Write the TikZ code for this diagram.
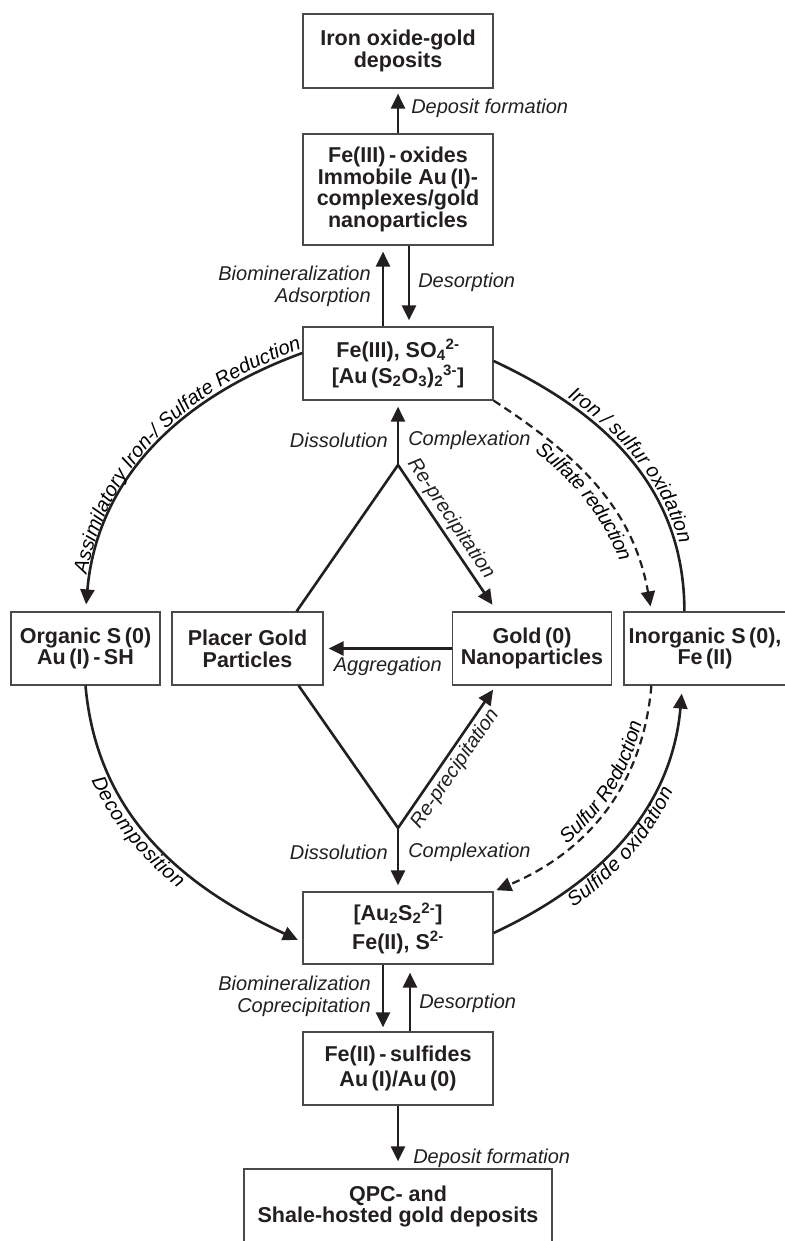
\documentclass[tikz,border=0pt]{standalone}
\usepackage{fontspec}
\setmainfont{Liberation Sans}
\usetikzlibrary{positioning, arrows.meta, decorations.text}
\definecolor{inkblack}{HTML}{231F20}
\definecolor{boxgray}{HTML}{4A4A4A}

\newcommand\boxfont{\fontsize{21.5}{21.7}\selectfont\bfseries}
\newcommand\lblfont{\fontsize{20}{21.7}\selectfont\itshape}

\tikzset{
  stage/.style={draw=boxgray, line width=1.2pt, align=center, font=\boxfont,
                text=inkblack, inner sep=0pt},
  flow/.style={draw=inkblack, line width=2.6pt, -{Triangle[length=15pt,width=14pt]}},
  plainflow/.style={draw=inkblack, line width=2.6pt},
  dashflow/.style={flow, line width=2.2pt, dash pattern=on 8pt off 5pt},
  lbl/.style={font=\lblfont, text=inkblack, inner sep=0pt},
  arclbl/.style 2 args={decorate, decoration={text along path, raise=#1,
        text align={align=left, left indent=#2}}},
}

\begin{document}
\begin{tikzpicture}[x=1pt, y=1pt]
  \useasboundingbox (0,0) rectangle (784,1241);

  % boxes
  \node[stage, minimum width=190pt, minimum height=74pt] (iod) at (398,1190)
    {Iron oxide-gold\\deposits};
  \node[stage, minimum width=190pt, minimum height=111pt] (feox) at (398,1051.5)
    {Fe(III)\,-\,oxides\\Immobile Au\,(I)-\\complexes/gold\\nanoparticles};
  \node[stage, minimum width=190pt, minimum height=73pt] (fe3) at (398,877.5)
    {Fe(III), SO\textsubscript{4}\textsuperscript{2-}\\[3pt]
     [Au\,(S\textsubscript{2}O\textsubscript{3})\textsubscript{2}\textsuperscript{3-}]};
  \node[stage, minimum width=149pt, minimum height=73pt] (orgs) at (85.5,592.5)
    {Organic S\,(0)\\Au\,(I)\,-\,SH};
  \node[stage, minimum width=151pt, minimum height=73pt] (placer) at (247.5,592.5)
    {Placer Gold\\Particles};
  \node[stage, minimum width=159pt, minimum height=73pt] (gold0) at (532,592.5)
    {Gold\,(0)\\Nanoparticles};
  \node[stage, minimum width=162pt, minimum height=73pt] (inorg) at (705,592.5)
    {Inorganic S\,(0),\\Fe\,(II)};
  \node[stage, minimum width=190pt, minimum height=72pt] (au2s2) at (398,313)
    {[Au\textsubscript{2}S\textsubscript{2}\textsuperscript{2-}]\\[5pt]Fe(II), S\textsuperscript{2-}};
  \node[stage, minimum width=190pt, minimum height=73pt] (fes) at (398,172.5)
    {Fe(II)\,-\,sulfides\\[3pt]Au\,(I)/Au\,(0)};
  \node[stage, minimum width=308pt, minimum height=75pt] (qpc) at (398,34.5)
    {QPC- and\\Shale-hosted gold deposits};

  \coordinate (jtop) at (398,776);
  \coordinate (jbot) at (398,413);

  % upper column
  \draw[flow, shorten >=5pt] (feox.north) -- (iod.south)
    node[lbl, pos=0.55, right=12pt] {Deposit formation};
  \draw[flow, shorten >=6pt] ([xshift=-15pt]fe3.north) -- ([xshift=-15pt]feox.south)
    node[lbl, pos=0.5, left=11pt, align=right] {Biomineralization\\Adsorption};
  \draw[flow, shorten >=6pt] ([xshift=11pt]feox.south) -- ([xshift=11pt]fe3.north)
    node[lbl, pos=0.46, right=8pt] {Desorption};

  % gold diamond
  \draw[flow, shorten >=6pt] (jtop) -- (fe3.south)
    node[lbl, pos=0.39, left=9pt] {Dissolution}
    node[lbl, pos=0.39, right=9pt] {Complexation};
  \draw[plainflow] (jtop) -- ([xshift=-27pt]placer.north east);
  \draw[flow, shorten >=8pt] (jtop) -- ([xshift=45pt]gold0.north west)
    node[lbl, sloped, pos=0.42, above=3pt] {Re-precipitation};
  \draw[flow, shorten >=5pt] (gold0.west) -- (placer.east)
    node[lbl, midway, below=7pt] {Aggregation};
  \draw[plainflow] (jbot) -- ([xshift=-25pt]placer.south east);
  \draw[flow, shorten >=5pt] (jbot) -- ([xshift=44pt]gold0.south west)
    node[lbl, sloped, pos=0.47, below=3pt] {Re-precipitation};
  \draw[flow, shorten >=6pt] (jbot) -- (au2s2.north)
    node[lbl, pos=0.38, left=9pt] {Dissolution}
    node[lbl, pos=0.38, right=9pt] {Complexation};

  % left cycle
  \draw[flow, shorten >=7pt] ([yshift=10.5pt]fe3.west) to[out=200, in=85] (orgs.north);
  \path[arclbl={4pt}{36pt}, decoration={text={|\lblfont|Assimilatory Iron-/ Sulfate Reduction}}]
    (orgs.north) to[out=85, in=200] ([yshift=10.5pt]fe3.west);
  \draw[flow, shorten >=5pt] (orgs.south) to[out=-85, in=155] ([yshift=-14pt]au2s2.west);
  \path[arclbl={-17.5pt}{90pt}, decoration={text={|\lblfont|Decomposition}}]
    (orgs.south) to[out=-85, in=155] ([yshift=-14pt]au2s2.west);

  % right cycle
  \draw[plainflow] ([yshift=2.5pt]fe3.east) to[out=-25, in=90] ([xshift=61pt]inorg.north west);
  \path[arclbl={4pt}{82pt}, decoration={text={|\lblfont|Iron / sulfur oxidation}}]
    ([yshift=2.5pt]fe3.east) to[out=-25, in=90] ([xshift=61pt]inorg.north west);
  \draw[dashflow, shorten >=5pt] (fe3.south east) to[out=-33, in=100] ([xshift=28pt]inorg.north west);
  \path[arclbl={-17.5pt}{64pt}, decoration={text={|\lblfont|Sulfate reduction}}]
    (fe3.south east) to[out=-33, in=100] ([xshift=28pt]inorg.north west);
  \draw[dashflow, shorten >=3pt] ([xshift=28pt]inorg.south west) to[out=-95, in=23] (au2s2.north east);
  \path[arclbl={4pt}{88pt}, decoration={text={|\lblfont|Sulfur Reduction}}]
    (au2s2.north east) to[out=23, in=-95] ([xshift=28pt]inorg.south west);
  \draw[flow, shorten >=8pt] ([yshift=-5pt]au2s2.east) to[out=25, in=-95] ([xshift=59pt]inorg.south west);
  \path[arclbl={-17.5pt}{80pt}, decoration={text={|\lblfont|Sulfide oxidation}}]
    ([yshift=-5pt]au2s2.east) to[out=25, in=-95] ([xshift=59pt]inorg.south west);

  % lower column
  \draw[flow, shorten >=4pt] ([xshift=-15pt]au2s2.south) -- ([xshift=-15pt]fes.north)
    node[lbl, pos=0.48, left=11pt, align=right] {Biomineralization\\Coprecipitation};
  \draw[flow, shorten >=8pt] ([xshift=12pt]fes.north) -- ([xshift=12pt]au2s2.south)
    node[lbl, pos=0.42, right=8pt] {Desorption};
  \draw[flow, shorten >=7pt] (fes.south) -- (qpc.north)
    node[lbl, pos=0.84, right=14pt] {Deposit formation};
\end{tikzpicture}
\end{document}
